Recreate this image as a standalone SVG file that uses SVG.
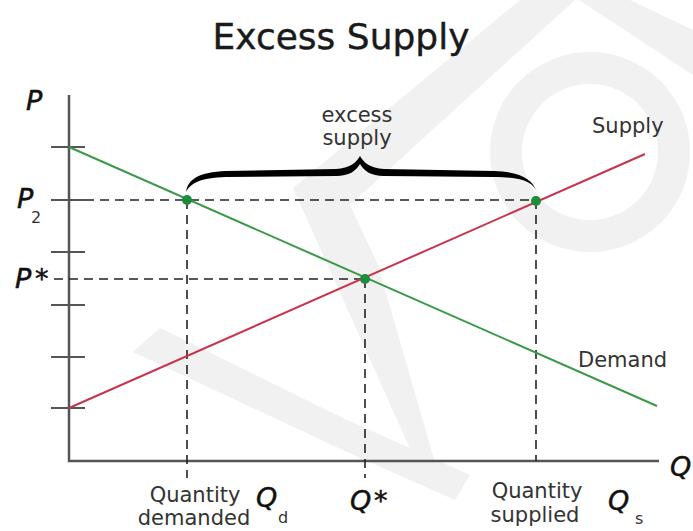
<svg xmlns="http://www.w3.org/2000/svg" width="693" height="531" viewBox="0 0 693 531">
  <style>
    .wm { fill: #f1f1f1; }
    .axis { stroke: #555; stroke-width: 2.5; fill: none; }
    .tick { stroke: #555; stroke-width: 2; }
    .guide { stroke: #222; stroke-width: 1.6; stroke-dasharray: 9 6; fill: none; }
    .lbl { font-family: "DejaVu Sans", Verdana, sans-serif; font-size: 21px; fill: #333; }
    .sym { font-family: "DejaVu Sans", Verdana, sans-serif; font-style: italic; font-size: 27px; fill: #111; stroke: #111; stroke-width: 0.5; }
    .sub { font-family: "DejaVu Sans", Verdana, sans-serif; font-size: 16px; fill: #333; }
    .dot { fill: #1e8c3a; }
  </style>
  <rect width="693" height="531" fill="#fff"/>

  <!-- faint background mark -->
  <g id="mark">
    <polygon class="wm" points="293,188 520,0 575,0 350,205 378,265 440,480 425,482"/>
    <polygon class="wm" points="160,328 347,420 470,475 455,500 347,452 133,352"/>
    <path class="wm" fill-rule="evenodd" d="M590,52 a100,100 0 1,0 0.1,0 Z M590,84 a68,68 0 1,1 -0.1,0 Z"/>
    <polygon class="wm" points="579,0 630,0 693,30 693,75"/>
  </g>

  <text x="341" y="49" text-anchor="middle" font-family="DejaVu Sans, Verdana, sans-serif" font-size="36" fill="#1a1a1a" stroke="#1a1a1a" stroke-width="0.4">Excess Supply</text>

  <!-- axes -->
  <g id="axes">
    <polyline class="axis" points="69,95 69,461 659,461"/>
    <line class="tick" x1="51" y1="147" x2="85" y2="147"/>
    <line class="tick" x1="51" y1="200" x2="85" y2="200"/>
    <line class="tick" x1="51" y1="252" x2="85" y2="252"/>
    <line class="tick" x1="51" y1="305" x2="85" y2="305"/>
    <line class="tick" x1="51" y1="357" x2="85" y2="357"/>
    <line class="tick" x1="51" y1="408" x2="85" y2="408"/>
    <text class="sym" x="26" y="110">P</text>
    <text class="sym" x="670" y="476">Q</text>
  </g>

  <!-- guide lines -->
  <g id="connectors">
    <line class="guide" x1="85" y1="200" x2="535" y2="200"/>
    <line class="guide" x1="54" y1="279" x2="365" y2="279"/>
    <line class="guide" x1="187" y1="200" x2="187" y2="478"/>
    <line class="guide" x1="365" y1="279" x2="365" y2="478"/>
    <line class="guide" x1="536" y1="200" x2="536" y2="461"/>
  </g>

  <!-- curves -->
  <g id="demand">
    <line x1="69" y1="147" x2="657" y2="406" stroke="#3a9a48" stroke-width="2"/>
    <text class="lbl" x="578" y="367">Demand</text>
  </g>
  <g id="supply">
    <line x1="69" y1="408" x2="645" y2="154" stroke="#c8344e" stroke-width="2"/>
    <text class="lbl" x="592" y="133">Supply</text>
  </g>

  <!-- points -->
  <g id="points">
    <circle class="dot" cx="187" cy="200" r="5"/>
    <circle class="dot" cx="536" cy="201" r="5"/>
    <circle class="dot" cx="365" cy="279" r="5"/>
  </g>

  <!-- brace over the gap -->
  <g id="excess">
    <path fill="#000" d="M186,192 C188,179 199,172 226,171 L336,169 C350,168 356,163 360,156 C364,163 370,168 384,169 L494,171 C521,172 532,179 537,192 C533,182 522,177 494,177 L384,176 C371,176 364,171 360,164 C356,171 349,176 336,176 L226,177 C200,178 191,183 186,192 Z"/>
    <text class="lbl" x="357" y="122" text-anchor="middle">excess</text>
    <text class="lbl" x="357" y="145" text-anchor="middle">supply</text>
  </g>

  <!-- price labels -->
  <g id="p2">
    <text class="sym" x="17" y="208">P</text>
    <text class="sub" x="31" y="223">2</text>
  </g>
  <g id="pstar">
    <text class="sym" x="15" y="288">P</text>
    <text class="sym" x="35" y="288">*</text>
  </g>

  <!-- quantity labels -->
  <g id="qd">
    <text class="lbl" x="195" y="502" text-anchor="middle">Quantity</text>
    <text class="lbl" x="194" y="525" text-anchor="middle">demanded</text>
    <text class="sym" x="256" y="507">Q</text>
    <text class="sub" x="278" y="523">d</text>
  </g>
  <g id="qstar">
    <text class="sym" x="350" y="510">Q</text>
    <text class="sym" x="374" y="510">*</text>
  </g>
  <g id="qs">
    <text class="lbl" x="537" y="498" text-anchor="middle">Quantity</text>
    <text class="lbl" x="535" y="522" text-anchor="middle">supplied</text>
    <text class="sym" x="608" y="510">Q</text>
    <text class="sub" x="635" y="524">s</text>
  </g>
</svg>
